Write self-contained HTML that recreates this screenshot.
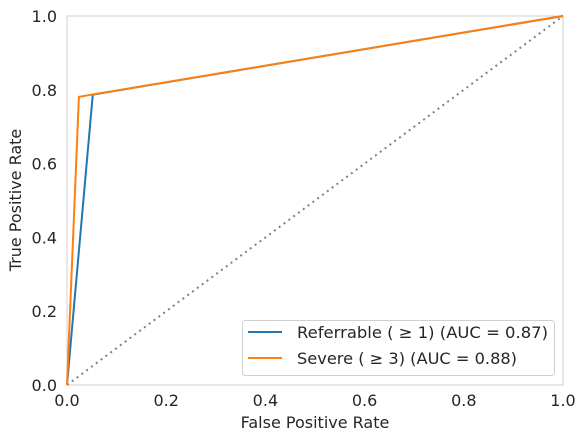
<!DOCTYPE html>
<html><head><meta charset="utf-8"><style>
body{margin:0;background:#fff;}
svg text{font-family:"DejaVu Sans","Liberation Sans",sans-serif;fill:#262626;}
</style></head><body>
<svg id="c" width="586" height="440" xmlns="http://www.w3.org/2000/svg">
<rect x="67" y="16" width="496" height="369" fill="#fff" stroke="#d0d0d0" stroke-width="1"/>
<g id="ticks"></g>
<line id="diag" stroke="#808080" stroke-width="2" stroke-dasharray="2,4"/>
<g id="series"></g>
<text x="315" y="428" font-size="16" text-anchor="middle">False Positive Rate</text>
<text x="21" y="200" font-size="16" text-anchor="middle" transform="rotate(-90 21 200)">True Positive Rate</text>
<g>
<rect x="242.5" y="320.5" width="312" height="55" rx="3" fill="#fff" fill-opacity="0.8" stroke="#d0d0d0"/>
<g><line x1="248" x2="282" y1="332" y2="332" stroke="#1f77b4" stroke-width="2"/><text x="297" y="338" font-size="16" textLength="251" lengthAdjust="spacingAndGlyphs">Referrable ( ≥ 1) (AUC = 0.87)</text></g>
<g><line x1="248" x2="282" y1="358" y2="358" stroke="#ff7f0e" stroke-width="2"/><text x="297" y="364" font-size="16" textLength="220" lengthAdjust="spacingAndGlyphs">Severe ( ≥ 3) (AUC = 0.88)</text></g>
</g>
</svg>
<script>
const tickLabels=["0.0","0.2","0.4","0.6","0.8","1.0"];
const tickValues=[0,0.2,0.4,0.6,0.8,1.0];
const seriesNames=["referrable","severe"];
const seriesColors=["#1f77b4","#ff7f0e"];
const referrableFpr=[0,0.052,1];
const referrableTpr=[0,0.787,1];
const severeFpr=[0,0.024,1];
const severeTpr=[0,0.781,1];
const X0=67,X1=563,Y0=385,Y1=16;
const sx=v=>X0+v*(X1-X0), sy=v=>Y0-v*(Y0-Y1);
const NS="http://www.w3.org/2000/svg";
const tg=document.getElementById('ticks');
tickValues.forEach((v,i)=>{
 let t=document.createElementNS(NS,'text');
 t.setAttribute('x',sx(v));t.setAttribute('y',Y0+21);t.setAttribute('font-size','16');t.setAttribute('text-anchor','middle');
 t.textContent=tickLabels[i];
 
 
 tg.appendChild(t);
 let u=document.createElementNS(NS,'text');
 u.setAttribute('x',X0-10);u.setAttribute('y',sy(v)+6);u.setAttribute('font-size','16');u.setAttribute('text-anchor','end');
 u.textContent=tickLabels[i];
 
 
 tg.appendChild(u);
});
const d=document.getElementById('diag');
d.setAttribute('x1',sx(0));d.setAttribute('y1',sy(0));d.setAttribute('x2',sx(1));d.setAttribute('y2',sy(1));
const sg=document.getElementById('series');
[[referrableFpr,referrableTpr],[severeFpr,severeTpr]].forEach((s,k)=>{
 let p=document.createElementNS(NS,'polyline');
 p.setAttribute('points',s[0].map((x,i)=>sx(x)+','+sy(s[1][i])).join(' '));
 p.setAttribute('fill','none');p.setAttribute('stroke',seriesColors[k]);p.setAttribute('stroke-width','2');
 
 
 sg.appendChild(p);
});
</script>
</body></html>
